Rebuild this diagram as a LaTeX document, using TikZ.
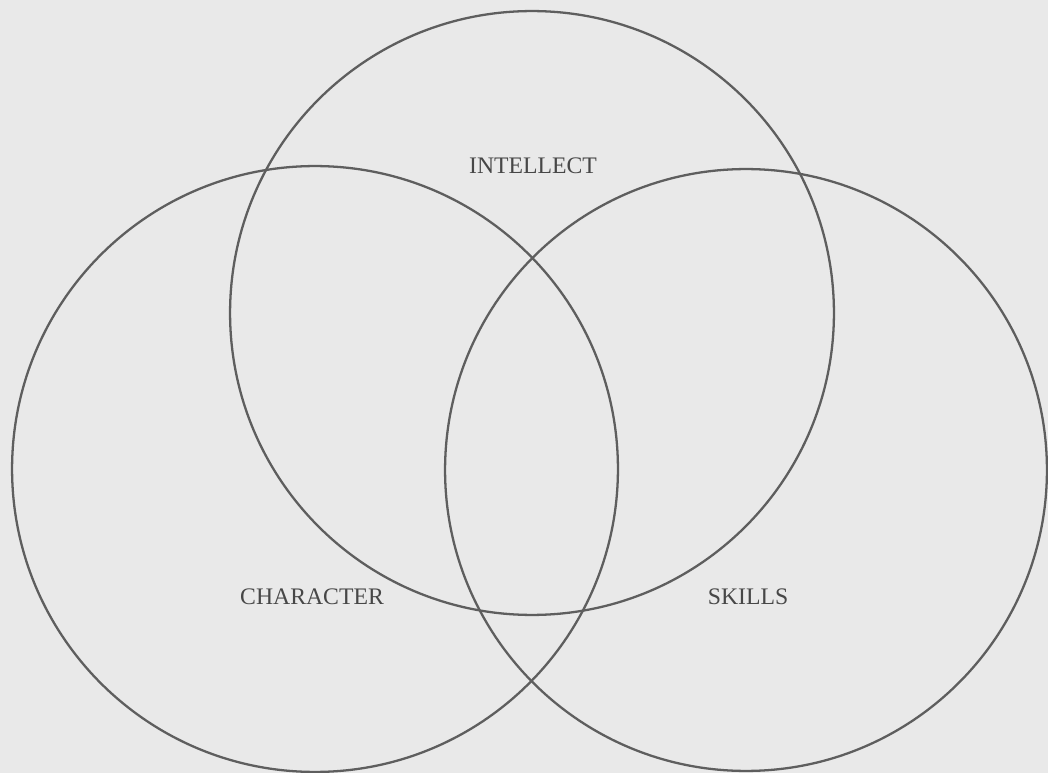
\documentclass[tikz,border=0pt]{standalone}
\usepackage{fontspec}
\setmainfont{Liberation Serif}

\definecolor{paper}{HTML}{E9E9E9}
\definecolor{ink}{HTML}{5E5E5E}
\definecolor{type}{HTML}{474747}

\begin{document}
\begin{tikzpicture}[
  x=0.02cm,y=-0.02cm,
  ring/.style={draw=ink,line width=1.3pt,circle,inner sep=0pt},
  tag/.style={text=type,font=\fontsize{13.5}{16}\selectfont}
]
  \fill[paper] (0,0) rectangle (1048,773);
  \useasboundingbox (0,0) rectangle (1048,773);

  \node[ring,minimum size=12.08cm] (intellect) at (532,313) {};
  \node[ring,minimum size=12.12cm] (character) at (315,469) {};
  \node[ring,minimum size=12.04cm] (skills) at (746,470) {};

  \node[tag] (intellectlabel) at (533,166) {INTELLECT};
  \node[tag] (characterlabel) at (312,597) {CHARACTER};
  \node[tag] (skillslabel) at (748,597) {SKILLS};
\end{tikzpicture}
\end{document}
